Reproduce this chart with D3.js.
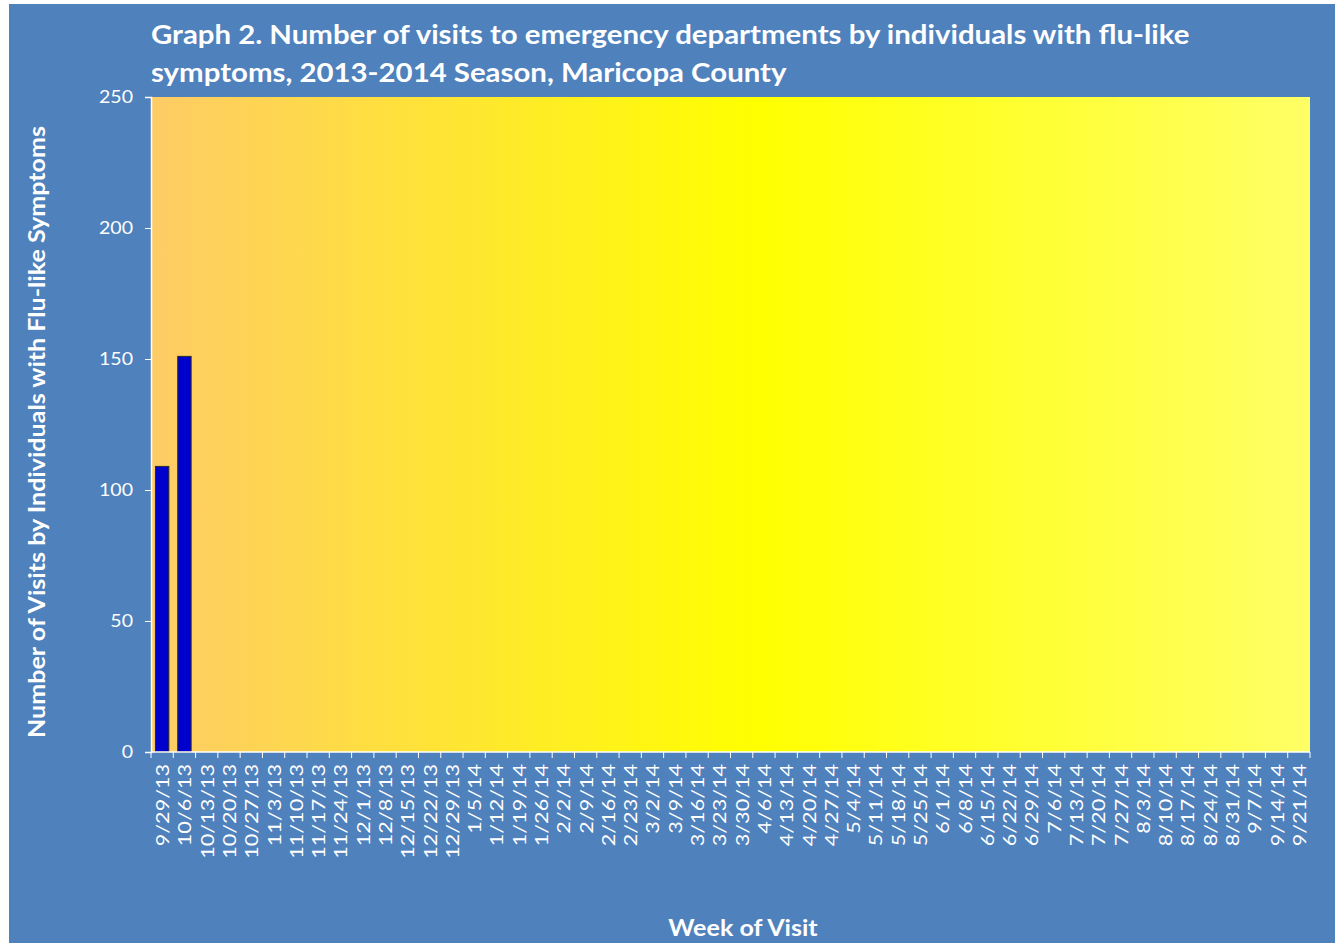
<!DOCTYPE html>
<html lang="en">
<head>
<meta charset="utf-8"/>
<title>Graph 2 - ED visits, flu-like symptoms</title>
<script src="https://cdnjs.cloudflare.com/ajax/libs/d3/7.8.5/d3.min.js"></script>
<style>
  body { margin: 0; background: #fff; }
  text { font-family: Lato, "Open Sans", sans-serif; fill: #fff; }
</style>
</head>
<body>
<svg id="chart" width="1338" height="943"></svg>
<script>
// weeks of visit (x categories)
var weeks = ["9/29/13","10/6/13","10/13/13","10/20/13","10/27/13","11/3/13","11/10/13","11/17/13",
  "11/24/13","12/1/13","12/8/13","12/15/13","12/22/13","12/29/13","1/5/14","1/12/14","1/19/14",
  "1/26/14","2/2/14","2/9/14","2/16/14","2/23/14","3/2/14","3/9/14","3/16/14","3/23/14","3/30/14",
  "4/6/14","4/13/14","4/20/14","4/27/14","5/4/14","5/11/14","5/18/14","5/25/14","6/1/14","6/8/14",
  "6/15/14","6/22/14","6/29/14","7/6/14","7/13/14","7/20/14","7/27/14","8/3/14","8/10/14",
  "8/17/14","8/24/14","8/31/14","9/7/14","9/14/14","9/21/14"];
// visits reported so far (only the first two weeks have data)
var visits = [109, 151];
var yTicks = [0, 50, 100, 150, 200, 250];

var svg = d3.select("#chart");

// the reference font (Calibri) is wider, stretch text a bit
function stretch(sel, k) {
  sel.each(function() {
    var w = this.getComputedTextLength();
    d3.select(this).attr("textLength", w * k).attr("lengthAdjust", "spacingAndGlyphs");
  });
}

// blue chart background
svg.append("rect").attr("x", 9).attr("y", 4).attr("width", 1326).attr("height", 939)
  .attr("fill", "#4F81BD");

var pLeft = 151, pRight = 1310, pTop = 97, pBottom = 752;

var x = d3.scaleBand().domain(weeks).range([pLeft, pRight]).paddingInner(0.4).paddingOuter(0.2);
var xb = d3.scaleBand().domain(weeks).range([pLeft, pRight]); // band edges for ticks
var y = d3.scaleLinear().domain([0, 250]).range([pBottom, pTop]);

// plot area gradient
var grad = svg.append("defs").append("linearGradient").attr("id", "plotGrad")
  .attr("x1", "0%").attr("x2", "100%").attr("y1", "0%").attr("y2", "0%");
grad.append("stop").attr("offset", "0%").attr("stop-color", "#FECB66");
grad.append("stop").attr("offset", "52%").attr("stop-color", "#FFFF00");
grad.append("stop").attr("offset", "100%").attr("stop-color", "#FFFF66");

svg.append("rect").attr("x", pLeft).attr("y", pTop)
  .attr("width", pRight - pLeft).attr("height", pBottom - pTop)
  .attr("fill", "url(#plotGrad)");

// bars
svg.append("g").selectAll("rect").data(visits).enter().append("rect")
  .attr("x", function(d, i) { return x(weeks[i]); })
  .attr("y", function(d) { return y(d); })
  .attr("width", x.bandwidth())
  .attr("height", function(d) { return y(0) - y(d); })
  .attr("fill", "#0000CC")
  .attr("stroke", "#2a2a2a")
  .attr("stroke-width", 1);

// y axis
var yAxis = svg.append("g").attr("transform", "translate(" + pLeft + ",0)")
  .call(d3.axisLeft(y).tickValues(yTicks).tickSize(6).tickPadding(12));
yAxis.select(".domain").attr("stroke", "#fff").attr("stroke-width", 1.5);
yAxis.selectAll(".tick line").attr("stroke", "#fff");
yAxis.selectAll(".tick text").attr("fill", "#fff")
  .style("font-size", "17px").style("font-family", "Lato, 'Open Sans', sans-serif");
stretch(yAxis.selectAll(".tick text"), 1.15);

// x axis: ticks at band edges, labels at band centres
var xAxisG = svg.append("g").attr("transform", "translate(0," + pBottom + ")");
xAxisG.append("line").attr("x1", pLeft).attr("x2", pRight).attr("y1", 0).attr("y2", 0)
  .attr("stroke", "#fff").attr("stroke-width", 1.5);
var edges = weeks.map(function(w) { return xb(w); }).concat([pRight]);
xAxisG.selectAll("line.tk").data(edges).enter().append("line").attr("class", "tk")
  .attr("x1", function(d) { return d; }).attr("x2", function(d) { return d; })
  .attr("y1", 0).attr("y2", 6).attr("stroke", "#fff");
var xLabels = xAxisG.selectAll("text").data(weeks).enter().append("text")
  .attr("transform", function(d) {
    return "translate(" + (xb(d) + xb.bandwidth() / 2 + 7) + ",12) rotate(-90)";
  })
  .attr("text-anchor", "end")
  .style("font-size", "18px")
  .text(function(d) { return d; });
stretch(xLabels, 1.2);

// title
var title = svg.append("text").style("font-size", "26px").style("font-weight", "bold");
title.append("tspan").attr("x", 151).attr("y", 44)
  .text("Graph 2. Number of visits to emergency departments by individuals with flu-like");
title.append("tspan").attr("x", 151).attr("y", 82)
  .text("symptoms, 2013-2014 Season, Maricopa County");
title.selectAll("tspan").each(function() {
  var w = this.getComputedTextLength();
  d3.select(this).attr("textLength", w * 1.13).attr("lengthAdjust", "spacingAndGlyphs");
});

// axis titles
var yTitle = svg.append("text").attr("transform", "translate(45,432) rotate(-90)")
  .attr("text-anchor", "middle").style("font-size", "22px").style("font-weight", "bold")
  .text("Number of Visits by Individuals  with Flu-like Symptoms");
stretch(yTitle, 1.14);
var xTitle = svg.append("text").attr("x", 743).attr("y", 936).attr("text-anchor", "middle")
  .style("font-size", "22px").style("font-weight", "bold")
  .text("Week of Visit");
stretch(xTitle, 1.14);
</script>
</body>
</html>
